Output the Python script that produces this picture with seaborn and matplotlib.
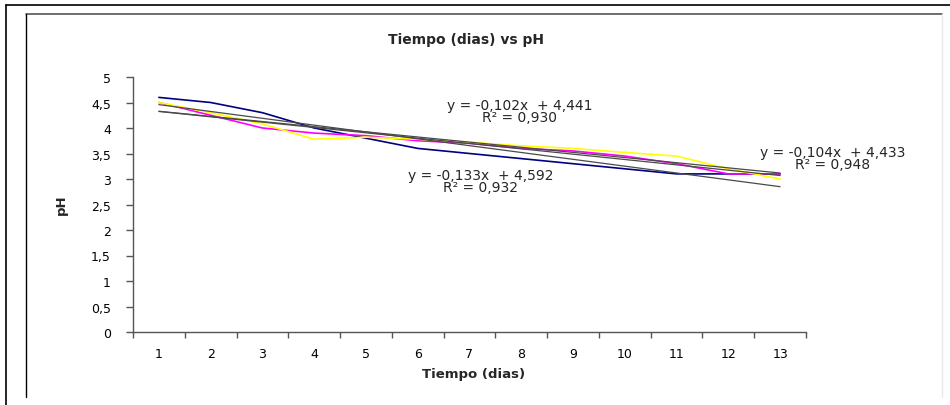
import matplotlib
matplotlib.use("Agg")
import matplotlib.pyplot as plt
from matplotlib.lines import Line2D
from matplotlib.ticker import FuncFormatter, FixedLocator
import numpy as np
import pandas as pd
import seaborn as sns

# ---- data ----
days = [1, 2, 3, 4, 5, 6, 7, 8, 9, 10, 11, 12, 13]
ph_blue = [4.6, 4.5, 4.3, 4.0, 3.8, 3.6, 3.5, 3.4, 3.3, 3.2, 3.1, 3.1, 3.1]
ph_magenta = [4.5, 4.25, 4.0, 3.9, 3.85, 3.75, 3.7, 3.6, 3.55, 3.45, 3.3, 3.1, 3.1]
ph_yellow = [4.5, 4.3, 4.08, 3.78, 3.82, 3.78, 3.72, 3.65, 3.6, 3.52, 3.45, 3.2, 3.0]
eq_yellow = "y = -0,102x  + 4,441\nR² = 0,930"
eq_blue = "y = -0,133x  + 4,592\nR² = 0,932"
eq_magenta = "y = -0,104x  + 4,433\nR² = 0,948"
title = "Tiempo (dias) vs pH"
xlabel = "Tiempo (dias)"
ylabel = "pH"

sns.set_theme(style="white")
plt.rcParams['font.family'] = ['DejaVu Sans']

fig = plt.figure(figsize=(9.5, 4.06), dpi=100)
W, H = 950, 406
ax = fig.add_axes([133 / W, 1 - 333 / H, (806 - 133) / W, (333 - 78) / H])

df = pd.DataFrame({"dia": days, "azul": ph_blue, "magenta": ph_magenta, "amarillo": ph_yellow})

series = [("azul", "#000080"), ("magenta", "#FF00FF"), ("amarillo", "#FFFF00")]
for name, col in series:
    sns.lineplot(data=df, x="dia", y=name, ax=ax, color=col, lw=1.2)

# trend lines
for name, col in series:
    sns.regplot(data=df, x="dia", y=name, ax=ax, scatter=False, ci=None,
                line_kws=dict(color="#4a4a4a", lw=0.9))

ax.set_xlim(0.5, 13.5)
ax.set_ylim(0, 5)
ax.set_yticks(np.arange(0, 5.01, 0.5))
ax.yaxis.set_major_formatter(FuncFormatter(lambda v, p: ("%g" % v).replace(".", ",")))
ax.set_xticks(days)
ax.set_xticklabels([str(d) for d in days])
ax.xaxis.set_minor_locator(FixedLocator(np.arange(0.5, 13.6, 1)))

for s in ["top", "right"]:
    ax.spines[s].set_visible(False)
for s in ["left", "bottom"]:
    ax.spines[s].set_color("#555555")
    ax.spines[s].set_linewidth(1.0)

ax.tick_params(axis="x", which="major", length=0, pad=11, labelsize=9, colors="black")
ax.tick_params(axis="x", which="minor", length=4, width=1, color="#555555", direction="out", bottom=True)
ax.tick_params(axis="y", which="major", length=5, width=1, color="#555555", direction="out",
               left=True, pad=11, labelsize=9, labelcolor="black")

ax.set_xlabel(xlabel, fontsize=9.5, fontweight="bold")
ax.set_ylabel(ylabel, fontsize=9.5, fontweight="bold")
ax.xaxis.set_label_coords((474 - 133) / (806 - 133), -(368 - 333) / (333 - 78))
ax.yaxis.set_label_coords(-(133 - 68) / (806 - 133), (333 - 205) / (333 - 78))

fig.text(466 / W, 1 - 40 / H, title, ha="center", va="center", fontsize=10, fontweight="bold")

for txt, (cx, cy) in [(eq_yellow, (520, 112)), (eq_blue, (481, 182)), (eq_magenta, (833, 159))]:
    fig.text(cx / W, 1 - cy / H, txt, ha="center", va="center", fontsize=10,
             multialignment="center", linespacing=0.85)

# frames
fig.add_artist(Line2D([6 / W, 1], [1 - 6 / H, 1 - 6 / H], transform=fig.transFigure, color="black", lw=1.2))
fig.add_artist(Line2D([6 / W, 6 / W], [0, 1 - 6 / H], transform=fig.transFigure, color="black", lw=1.2))
fig.add_artist(Line2D([26 / W, 942 / W], [1 - 15 / H, 1 - 15 / H], transform=fig.transFigure, color="#555555", lw=1.2))
fig.add_artist(Line2D([26 / W, 26 / W], [1 - 398 / H, 1 - 15 / H], transform=fig.transFigure, color="black", lw=1.0))
fig.add_artist(Line2D([942 / W, 942 / W], [1 - 398 / H, 1 - 15 / H], transform=fig.transFigure, color="#e8e8e8", lw=1.0))

fig.savefig("out.png", dpi=100)
